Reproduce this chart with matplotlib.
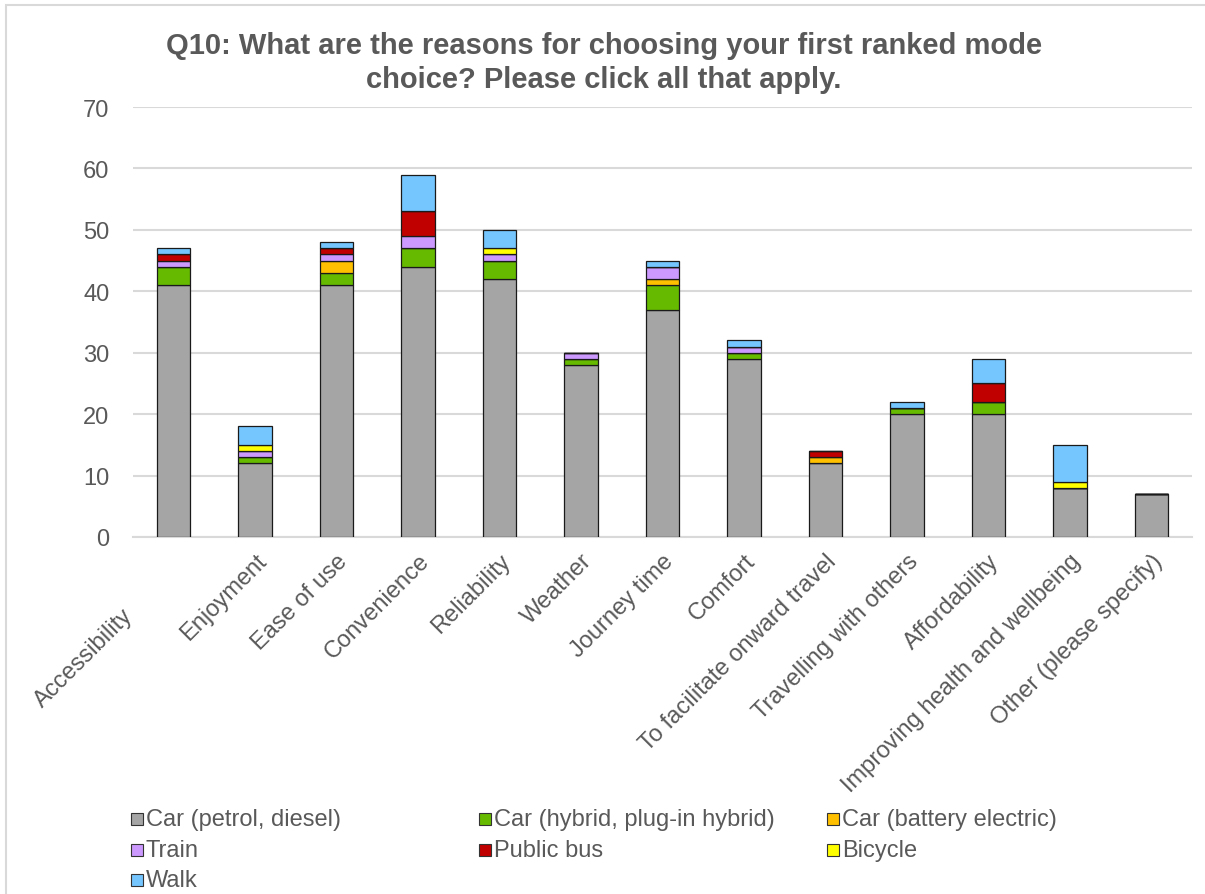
import matplotlib
matplotlib.use("Agg")
import matplotlib.pyplot as plt
from matplotlib.patches import Rectangle
from matplotlib.transforms import ScaledTranslation
import numpy as np

plt.rcParams['font.family'] = ['Liberation Sans', 'DejaVu Sans']

categories = ["Accessibility", "Enjoyment", "Ease of use", "Convenience", "Reliability",
              "Weather", "Journey time", "Comfort", "To facilitate onward travel",
              "Travelling with others", "Affordability", "Improving health and wellbeing",
              "Other (please specify)"]

series_names = ["Car (petrol, diesel)", "Car (hybrid, plug-in hybrid)", "Car (battery electric)",
                "Train", "Public bus", "Bicycle", "Walk"]

car_petrol = [41, 12, 41, 44, 42, 28, 37, 29, 12, 20, 20, 8, 7]
car_hybrid = [3, 1, 2, 3, 3, 1, 4, 1, 0, 1, 2, 0, 0]
car_electric = [0, 0, 2, 0, 0, 0, 1, 0, 1, 0, 0, 0, 0]
train = [1, 1, 1, 2, 1, 1, 2, 1, 0, 0, 0, 0, 0]
public_bus = [1, 0, 1, 4, 0, 0, 0, 0, 1, 0, 3, 0, 0]
bicycle = [0, 1, 0, 0, 1, 0, 0, 0, 0, 0, 0, 1, 0]
walk = [1, 3, 1, 6, 3, 0, 1, 1, 0, 1, 4, 6, 0]

colors = ["#A5A5A5", "#66BB00", "#FFC000", "#CC99FF", "#C00000", "#FFFF00", "#75C6FF"]
y_ticks = [0, 10, 20, 30, 40, 50, 60, 70]

W, H = 1205, 895
fig = plt.figure(figsize=(W / 100, H / 100), dpi=100)

# outer chart frame
fig.patches.append(Rectangle((6 / W, -0.05), 1.2, (H - 6) / H + 0.05, transform=fig.transFigure,
                             fill=False, edgecolor="#D9D9D9", linewidth=1.5))

ax = fig.add_axes([133 / W, 1 - 538 / H, (1192 - 133) / W, (538 - 108) / H])

series = [car_petrol, car_hybrid, car_electric, train, public_bus, bicycle, walk]
x = np.arange(len(categories))
bottom = np.zeros(len(categories))
for vals, col, name in zip(series, colors, series_names):
    v = np.array(vals, dtype=float)
    ax.bar(x, v, bottom=bottom, width=0.41, color=col, edgecolor="#1a1a1a",
           linewidth=0.9, label=name, zorder=3)
    bottom += v

ax.set_xlim(-0.5, len(categories) - 0.5)
ax.set_ylim(0, 70)
ax.set_yticks(y_ticks)
ax.set_yticklabels([str(t) for t in y_ticks], fontsize=17, color="#595959")
ax.yaxis.grid(True, color="#D9D9D9", linewidth=1.5, zorder=0)
ax.set_axisbelow(True)
for s in ["top", "right", "left"]:
    ax.spines[s].set_visible(False)
ax.spines["bottom"].set_color("#D9D9D9")
ax.spines["bottom"].set_linewidth(1.5)
ax.tick_params(axis="y", length=0, pad=17)
ax.tick_params(axis="x", length=0, pad=9)
ax.set_xticks(x)
ax.set_xticklabels(categories, rotation=45, ha="right", va="top", rotation_mode="anchor",
                   fontsize=17, color="#595959")

# the first category label sits lower-left, clear of the value axis
first = ax.get_xticklabels()[0]
first.set_transform(first.get_transform() + ScaledTranslation(-0.52, -0.55, fig.dpi_scale_trans))

fig.text(604 / W, 1 - 63 / H,
         "Q10: What are the reasons for choosing your first ranked mode\nchoice? Please click all that apply.",
         ha="center", va="center", fontsize=21, fontweight="bold", color="#595959",
         linespacing=1.25)

# legend laid out in rows of three
col_x = [131, 479, 827]
row_y = [820, 851, 881]
for i, (name, col) in enumerate(zip(series_names, colors)):
    r, c = divmod(i, 3)
    sx, sy = col_x[c], row_y[r]
    fig.patches.append(Rectangle((sx / W, 1 - (sy + 6) / H), 12 / W, 12 / H,
                                 transform=fig.transFigure, facecolor=col,
                                 edgecolor="#333333", linewidth=0.8))
    fig.text((sx + 15) / W, 1 - sy / H, name, ha="left", va="center",
             fontsize=17, color="#595959")

fig.savefig("out.png", dpi=100)
